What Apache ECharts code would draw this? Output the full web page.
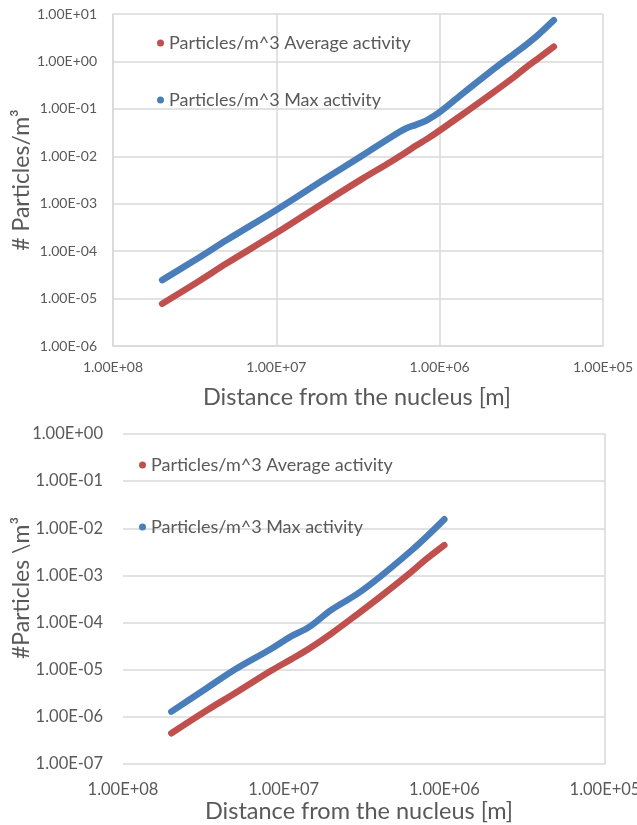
<!DOCTYPE html>
<html>
<head>
<meta charset="utf-8">
<script src="https://cdn.jsdelivr.net/npm/echarts@6/dist/echarts.min.js"></script>
<style>
html,body{margin:0;padding:0;background:#fff;}
#chart{width:637px;height:825px;}
</style>
</head>
<body>
<div id="chart"></div>
<script>
// ---- data ----
const SERIES_AVG = 'Particles/m^3 Average activity';
const SERIES_MAX = 'Particles/m^3 Max activity';

const TOP_DIST = [5e7, 3e7, 2e7, 1e7, 5e6, 3e6, 2e6, 1.6e6, 1.4e6, 1.2e6, 1e6, 7e5, 5e5, 3.5e5, 3e5, 2.5e5, 2e5];
const TOP_AVG  = [7.8e-6, 2.3e-5, 5.6e-5, 2.4e-4, 1.1e-3, 3.3e-3, 7.6e-3, 1.23e-2, 1.66e-2, 2.3e-2, 3.5e-2, 8.3e-2, 0.19, 0.47, 0.72, 1.15, 2.05];
const TOP_MAX  = [2.45e-5, 7.2e-5, 1.74e-4, 7.4e-4, 3.4e-3, 1.02e-2, 2.5e-2, 3.9e-2, 4.6e-2, 5.75e-2, 8.5e-2, 0.23, 0.575, 1.45, 2.15, 3.6, 7.4];

const BOT_DIST = [5e7, 3e7, 2e7, 1.2e7, 9e6, 7e6, 5e6, 3.5e6, 2.5e6, 1.6e6, 1.3e6, 1e6];
const BOT_AVG  = [4.5e-7, 1.38e-6, 3.2e-6, 9.5e-6, 1.66e-5, 2.75e-5, 6.0e-5, 1.48e-4, 3.55e-4, 1.2e-3, 2.2e-3, 4.4e-3];
const BOT_MAX  = [1.29e-6, 4.1e-6, 1.02e-5, 2.75e-5, 5.1e-5, 7.9e-5, 1.9e-4, 4.0e-4, 9.5e-4, 3.4e-3, 6.5e-3, 1.55e-2];

// tick labels (exponent order, lowest first)
const X_TICKS = ['1.00E+05', '1.00E+06', '1.00E+07', '1.00E+08'];
const X_MIN_EXP = 5;
const TOP_Y_TICKS = ['1.00E-06', '1.00E-05', '1.00E-04', '1.00E-03', '1.00E-02', '1.00E-01', '1.00E+00', '1.00E+01'];
const TOP_Y_MIN_EXP = -6;
const BOT_Y_TICKS = ['1.00E-07', '1.00E-06', '1.00E-05', '1.00E-04', '1.00E-03', '1.00E-02', '1.00E-01', '1.00E+00'];
const BOT_Y_MIN_EXP = -7;

const X_TITLE = 'Distance from the nucleus [m]';
const TOP_Y_TITLE = '# Particles/m³';
const BOT_Y_TITLE = '#Particles \\m³';

// ---- styling ----
const FONT = 'Lato';
const TEXT = '#595959';
const GRIDC = '#D9D9D9';
const RED = '#C0504D';
const BLUE = '#4A7EBB';

function fmt(ticks, minExp) {
  return v => {
    const e = Math.round(Math.log10(v));
    return ticks[e - minExp] || '';
  };
}
function pairs(xs, ys) { return xs.map((x, i) => [x, ys[i]]); }

const chart = echarts.init(document.getElementById('chart'), null, {renderer: 'canvas'});

function lineSeries(name, color, xi, yi, data) {
  return {
    name, type: 'line', xAxisIndex: xi, yAxisIndex: yi, data,
    showSymbol: false, symbol: 'none', smooth: 0.35, silent: true,
    itemStyle: {color},
    lineStyle: {color, width: 6.5, cap: 'round', join: 'round'},
    animation: false
  };
}

function legend(name, color, left, centerY, fs) {
  return {
    data: [{name, icon: 'circle', itemStyle: {color}}],
    left, top: centerY - fs / 2 - 1, padding: 0,
    itemWidth: 7, itemHeight: 7, itemGap: 0,
    selectedMode: false,
    textStyle: {fontFamily: FONT, fontSize: fs, color: TEXT, padding: [0, 0, 0, 0]}
  };
}

const option = {
  backgroundColor: '#fff',
  animation: false,
  grid: [
    {left: 113, top: 14, width: 490, height: 332, outerBoundsMode: 'none', containLabel: false},
    {left: 123, top: 434, width: 482, height: 330, outerBoundsMode: 'none', containLabel: false}
  ],
  xAxis: [
    {
      type: 'log', logBase: 10, gridIndex: 0, min: 1e5, max: 1e8, inverse: true, splitNumber: 3,
      axisLine: {show: true, lineStyle: {color: GRIDC, width: 1.5}},
      axisTick: {show: false},
      splitLine: {show: true, lineStyle: {color: GRIDC, width: 1.5}},
      minorTick: {show: false}, minorSplitLine: {show: false},
      axisLabel: {formatter: fmt(X_TICKS, X_MIN_EXP), fontFamily: FONT, fontSize: 14, color: TEXT, margin: 14, showMinLabel: true, showMaxLabel: true}
    },
    {
      type: 'log', logBase: 10, gridIndex: 1, min: 1e5, max: 1e8, inverse: true, splitNumber: 3,
      axisLine: {show: false},
      axisTick: {show: false},
      splitLine: {show: false},
      axisLabel: {formatter: fmt(X_TICKS, X_MIN_EXP), fontFamily: FONT, fontSize: 16.5, color: TEXT, margin: 17, showMinLabel: true, showMaxLabel: true}
    }
  ],
  yAxis: [
    {
      type: 'log', logBase: 10, gridIndex: 0, min: 1e-6, max: 1e1, splitNumber: 7,
      axisLine: {show: true, lineStyle: {color: GRIDC, width: 1.5}},
      axisTick: {show: false},
      splitLine: {show: true, lineStyle: {color: GRIDC, width: 1.5}},
      axisLabel: {formatter: fmt(TOP_Y_TICKS, TOP_Y_MIN_EXP), fontFamily: FONT, fontSize: 14, color: TEXT, margin: 16, showMinLabel: true, showMaxLabel: true}
    },
    {
      type: 'log', logBase: 10, gridIndex: 1, min: 1e-7, max: 1e0, splitNumber: 7,
      axisLine: {show: false},
      axisTick: {show: false},
      splitLine: {show: true, lineStyle: {color: GRIDC, width: 1.5}},
      axisLabel: {formatter: fmt(BOT_Y_TICKS, BOT_Y_MIN_EXP), fontFamily: FONT, fontSize: 16.5, color: TEXT, margin: 20, showMinLabel: true, showMaxLabel: true}
    },
    {
      type: 'log', logBase: 10, gridIndex: 1, min: 1e-7, max: 1e0, position: 'right',
      axisLine: {show: true, lineStyle: {color: GRIDC, width: 1.5}},
      axisTick: {show: false}, splitLine: {show: false}, axisLabel: {show: false}
    }
  ],
  legend: [
    legend(SERIES_AVG, RED, 157, 44, 18),
    legend(SERIES_MAX, BLUE, 157, 101, 18),
    legend(SERIES_AVG, RED, 139, 466, 18),
    legend(SERIES_MAX, BLUE, 139, 528, 18)
  ],
  series: [
    lineSeries(SERIES_AVG, RED, 0, 0, pairs(TOP_DIST, TOP_AVG)),
    lineSeries(SERIES_MAX, BLUE, 0, 0, pairs(TOP_DIST, TOP_MAX)),
    lineSeries(SERIES_AVG, RED, 1, 1, pairs(BOT_DIST, BOT_AVG)),
    lineSeries(SERIES_MAX, BLUE, 1, 1, pairs(BOT_DIST, BOT_MAX))
  ],
  graphic: [
    {type: 'text', x: 357, y: 397, style: {text: X_TITLE, fontFamily: FONT, fontSize: 23.5, fill: TEXT, align: 'center', verticalAlign: 'middle'}},
    {type: 'text', x: 359, y: 811, style: {text: X_TITLE, fontFamily: FONT, fontSize: 23.5, fill: TEXT, align: 'center', verticalAlign: 'middle'}},
    {type: 'text', x: 22, y: 180, rotation: Math.PI / 2, style: {text: TOP_Y_TITLE, fontFamily: FONT, fontSize: 23, fill: TEXT, align: 'center', verticalAlign: 'middle'}},
    {type: 'text', x: 22, y: 588, rotation: Math.PI / 2, style: {text: BOT_Y_TITLE, fontFamily: FONT, fontSize: 23, fill: TEXT, align: 'center', verticalAlign: 'middle'}}
  ]
};
chart.setOption(option);
</script>
</body>
</html>
